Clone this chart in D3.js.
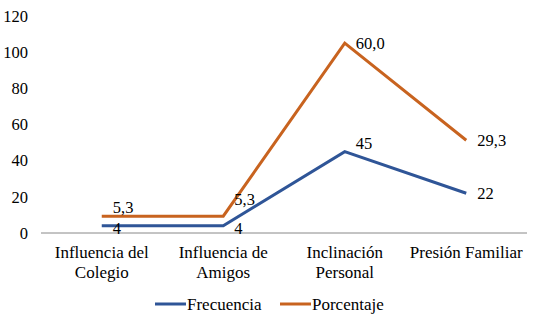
<!DOCTYPE html>
<html>
<head>
<meta charset="utf-8">
<script src="https://cdn.jsdelivr.net/npm/d3@7"></script>
<style>
  body { margin: 0; background: #fff; }
</style>
</head>
<body>
<div id="chart"></div>
<script>
// data
const categories = [["Influencia del", "Colegio"], ["Influencia de", "Amigos"], ["Inclinación", "Personal"], ["Presión Familiar"]];
const frecuencia = [4, 4, 45, 22];
const porcentaje = [5.3, 5.3, 60.0, 29.3];
const seriesNames = ["Frecuencia", "Porcentaje"];
const yTicks = [0, 20, 40, 60, 80, 100, 120];

const W = 535, H = 320;
const margin = {top: 16, right: 8, bottom: 87, left: 41};
const width = W - margin.left - margin.right,
      height = H - margin.top - margin.bottom;

const colors = ["#2F5597", "#C8631F"];
const serif = "'Liberation Serif', 'Times New Roman', serif";

const svg = d3.select("#chart").append("svg")
  .attr("width", W).attr("height", H)
  .style("font-family", serif)
  .append("g")
  .attr("transform", `translate(${margin.left},${margin.top})`);

const x = d3.scaleBand()
  .domain(d3.range(categories.length))
  .range([0, width]);

const y = d3.scaleLinear()
  .domain([0, 120])
  .range([height, 0]);

// y axis labels (no line)
svg.append("g")
  .selectAll("text")
  .data(yTicks)
  .join("text")
    .attr("x", -13)
    .attr("y", d => y(d))
    .attr("dy", "0.35em")
    .attr("text-anchor", "end")
    .style("font-family", serif)
    .style("font-size", "16.5px")
    .text(d => d);

// x axis line
svg.append("line")
  .attr("x1", 0).attr("x2", width)
  .attr("y1", y(0)).attr("y2", y(0))
  .attr("stroke", "#888").attr("stroke-width", 1);

// category labels
svg.append("g")
  .selectAll("text")
  .data(categories)
  .join("text")
    .attr("text-anchor", "middle")
    .attr("transform", (d, i) => `translate(${x(i) + x.bandwidth() / 2},${y(0) + 25})`)
    .style("font-family", serif)
    .style("font-size", "17px")
    .selectAll("tspan")
    .data(d => d)
    .join("tspan")
      .attr("x", 0)
      .attr("dy", (d, i) => i === 0 ? 0 : 20)
      .text(d => d);

// stacked line values
const stacked = [
  frecuencia.map((v, i) => ({i, top: v, label: String(v)})),
  porcentaje.map((v, i) => ({i, top: v + frecuencia[i], label: v.toFixed(1).replace(".", ",")}))
];

const line = d3.line()
  .x(d => x(d.i) + x.bandwidth() / 2)
  .y(d => y(d.top));

svg.selectAll(".series")
  .data(stacked)
  .join("path")
    .attr("class", "series")
    .attr("fill", "none")
    .attr("stroke", (d, k) => colors[k])
    .attr("stroke-width", 3)
    .attr("d", line);

// label nudges so they look like the original
const labelDy = [[2, 2, -8, 0], [-9, -17, 0, 0]];

stacked.forEach((s, k) => {
  svg.append("g")
    .selectAll("text")
    .data(s)
    .join("text")
      .attr("x", d => x(d.i) + x.bandwidth() / 2 + 11)
      .attr("y", d => y(d.top) + labelDy[k][d.i])
      .attr("dy", "0.35em")
      .style("font-family", serif)
      .style("font-size", "16.5px")
      .text(d => d.label);
});

// legend
const legend = svg.append("g")
  .attr("transform", `translate(0,${H - margin.top - 16})`);
const legX = [114, 239];
seriesNames.forEach((name, k) => {
  legend.append("line")
    .attr("x1", legX[k]).attr("x2", legX[k] + 31)
    .attr("y1", 0).attr("y2", 0)
    .attr("stroke", colors[k]).attr("stroke-width", 3);
  legend.append("text")
    .attr("x", legX[k] + 32)
    .attr("y", 0)
    .attr("dy", "0.35em")
    .style("font-family", serif)
    .style("font-size", "17px")
    .text(name);
});
</script>
</body>
</html>
